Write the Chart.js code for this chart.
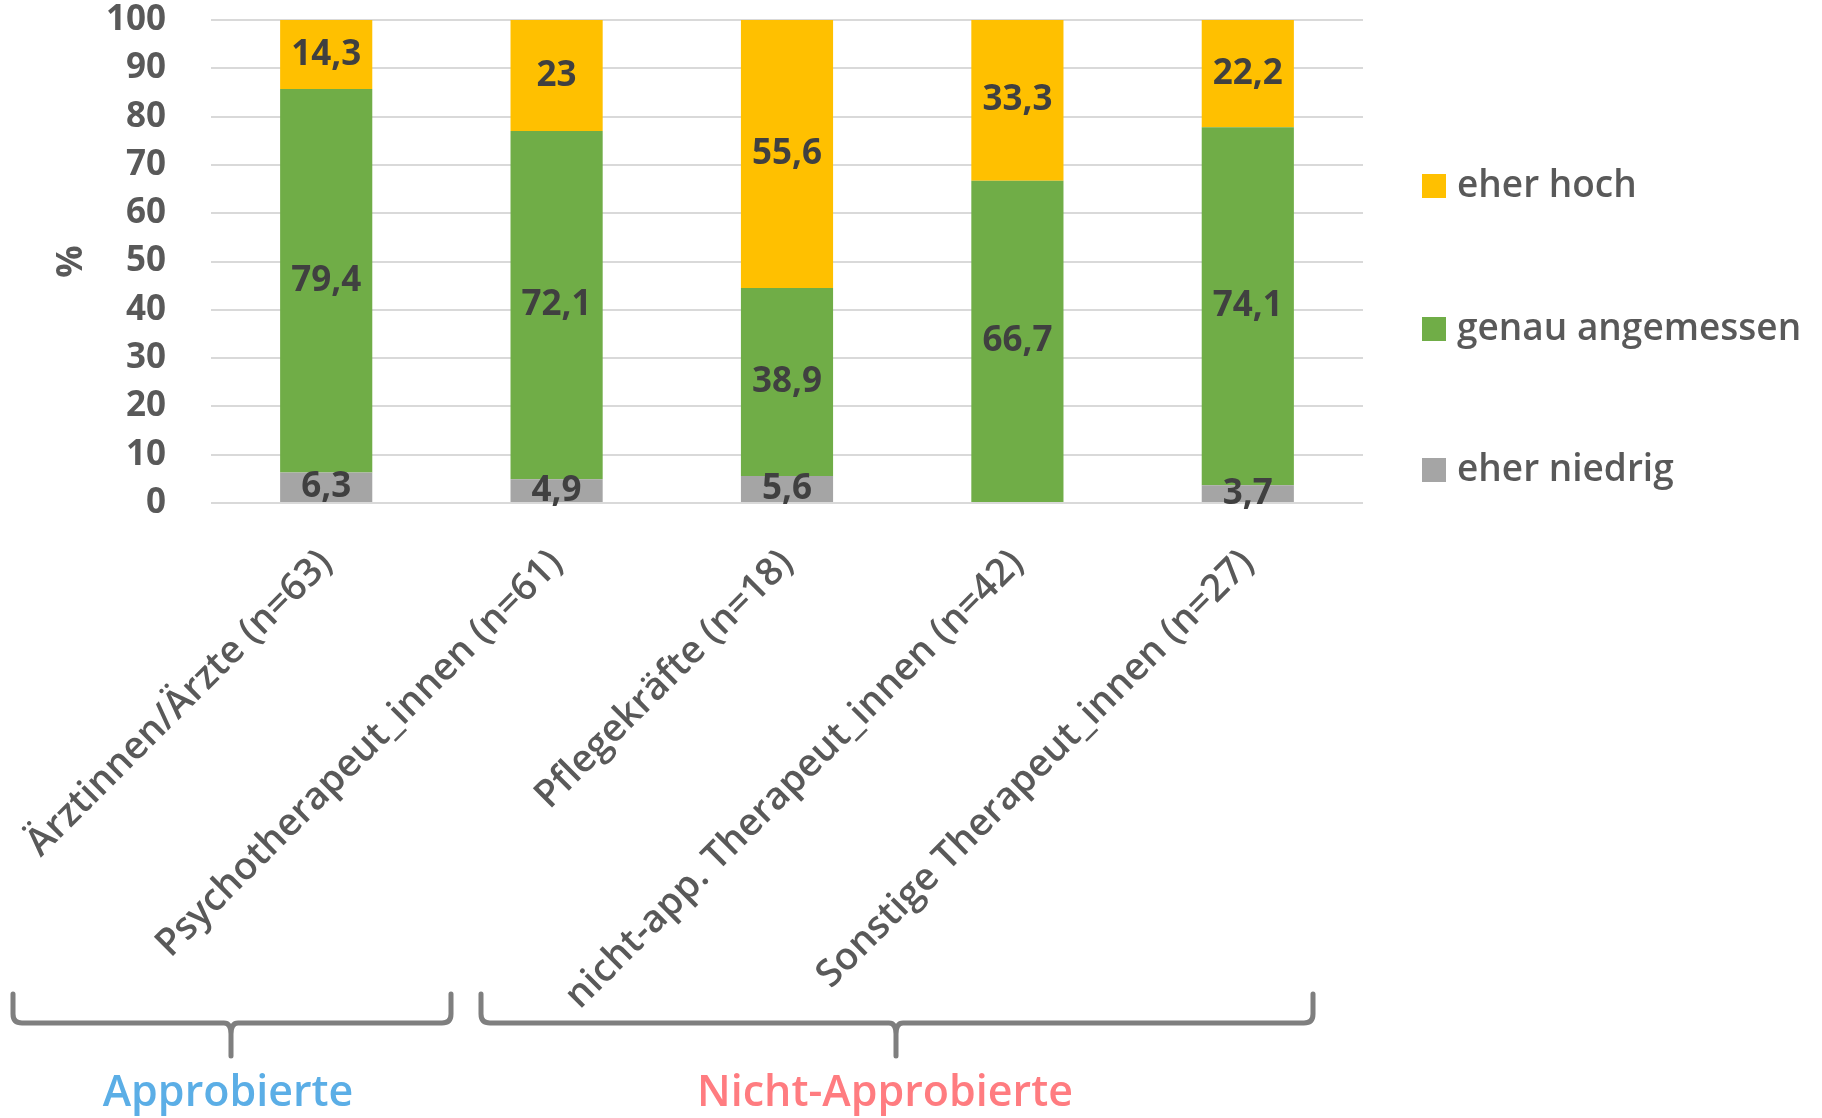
<!DOCTYPE html>
<html>
<head>
<meta charset="utf-8">
<script src="https://cdn.jsdelivr.net/npm/chart.js@4.4.1/dist/chart.umd.min.js"></script>
<style>
  html, body { margin: 0; padding: 0; background: #fff; }
  #wrap { width: 1822px; height: 1118px; }
</style>
</head>
<body>
<div id="wrap"><canvas id="chart" width="1822" height="1118"></canvas></div>
<script>
// categories (x axis)
const categories = [
  "Ärztinnen/Ärzte (n=63)",
  "Psychotherapeut_innen (n=61)",
  "Pflegekräfte (n=18)",
  "nicht-app. Therapeut_innen (n=42)",
  "Sonstige Therapeut_innen (n=27)"
];

// series values in %
const eherNiedrig = [6.3, 4.9, 5.6, null, 3.7];
const genauAngemessen = [79.4, 72.1, 38.9, 66.7, 74.1];
const eherHoch = [14.3, 23, 55.6, 33.3, 22.2];

const seriesNames = ["eher niedrig", "genau angemessen", "eher hoch"];
const seriesColors = ["#A5A5A5", "#70AD47", "#FFC000"];

// y ticks
const yMin = 0, yMax = 100, yStep = 10;

// group labels under the axis
const groups = ["Approbierte", "Nicht-Approbierte"];

const FONT = "'Open Sans', 'DejaVu Sans', sans-serif";
Chart.defaults.font.family = FONT;

function fmt(v) {
  return String(v).replace(".", ",");
}

// value labels centred in each segment
const barLabels = {
  id: "barLabels",
  afterDatasetsDraw(chart) {
    const ctx = chart.ctx;
    ctx.save();
    ctx.font = "bold 35px " + FONT;
    ctx.fillStyle = "#404040";
    ctx.textAlign = "center";
    ctx.textBaseline = "middle";
    chart.data.datasets.forEach((ds, i) => {
      const meta = chart.getDatasetMeta(i);
      meta.data.forEach((bar, j) => {
        const v = ds.data[j];
        if (v == null || v === 0) return;
        ctx.fillText(fmt(v), bar.x, (bar.y + bar.base) / 2);
      });
    });
    ctx.restore();
  }
};

// legend, brackets and group names
const extras = {
  id: "extras",
  afterDraw(chart) {
    const ctx = chart.ctx;
    ctx.save();

    // legend (top item = last dataset)
    const legendY = [186, 329, 470];
    ctx.font = "600 37px " + FONT;
    ctx.textBaseline = "middle";
    ctx.textAlign = "left";
    for (let k = 0; k < 3; k++) {
      const idx = 2 - k;
      ctx.fillStyle = seriesColors[idx];
      ctx.fillRect(1422, legendY[k] - 12, 24, 24);
      ctx.fillStyle = "#595959";
      ctx.fillText(seriesNames[idx], 1457, legendY[k]);
    }

    // brackets
    ctx.strokeStyle = "#7F7F7F";
    ctx.lineWidth = 5;
    ctx.lineCap = "round";
    ctx.lineJoin = "round";
    function bracket(x1, x2, xt) {
      const yTop = 994, yMid = 1023, yTip = 1056, r = 9, f = 7;
      ctx.beginPath();
      ctx.moveTo(x1, yTop);
      ctx.lineTo(x1, yMid - r);
      ctx.quadraticCurveTo(x1, yMid, x1 + r, yMid);
      ctx.lineTo(xt - f, yMid);
      ctx.quadraticCurveTo(xt, yMid, xt, yMid + f + 4);
      ctx.lineTo(xt, yTip);
      ctx.moveTo(xt, yMid + f + 4);
      ctx.quadraticCurveTo(xt, yMid, xt + f, yMid);
      ctx.lineTo(x2 - r, yMid);
      ctx.quadraticCurveTo(x2, yMid, x2, yMid - r);
      ctx.lineTo(x2, yTop);
      ctx.stroke();
    }
    bracket(13, 451, 231);
    bracket(481, 1313, 896);

    ctx.font = "600 43px " + FONT;
    ctx.textAlign = "center";
    ctx.fillStyle = "#5BAEE6";
    ctx.fillText(groups[0], 228, 1094);
    ctx.fillStyle = "#FF7C80";
    ctx.fillText(groups[1], 885, 1094);

    ctx.restore();
  }
};

const datasets = [eherNiedrig, genauAngemessen, eherHoch].map((d, i) => ({
  label: seriesNames[i],
  data: d,
  backgroundColor: seriesColors[i],
  borderWidth: 0,
  categoryPercentage: 1.0,
  barPercentage: 0.4
}));

function noPad(scale) {
  scale.paddingLeft = 0;
  scale.paddingRight = 0;
  scale.paddingTop = 0;
  scale.paddingBottom = 0;
}

new Chart(document.getElementById("chart"), {
  type: "bar",
  data: { labels: categories, datasets: datasets },
  options: {
    responsive: false,
    animation: false,
    layout: { padding: { top: 20, left: 38, right: 459, bottom: 0 } },
    plugins: {
      legend: { display: false },
      tooltip: { enabled: false }
    },
    scales: {
      x: {
        stacked: true,
        grid: { display: false },
        border: { display: false },
        ticks: {
          color: "#595959",
          font: { size: 38, weight: "600" },
          minRotation: 45,
          maxRotation: 45,
          padding: 30,
          autoSkip: false
        },
        afterFit(scale) { scale.height = 615; noPad(scale); }
      },
      y: {
        stacked: true,
        min: yMin,
        max: yMax,
        grid: { color: "#D9D9D9", lineWidth: 2, drawTicks: false },
        border: { display: false },
        ticks: {
          stepSize: yStep,
          autoSkip: false,
          color: "#595959",
          font: { size: 35, weight: "bold" },
          padding: 45
        },
        title: {
          display: true,
          text: "%",
          color: "#595959",
          font: { size: 36, weight: "bold" },
          padding: { top: 12, bottom: 0 }
        },
        afterFit(scale) { scale.width = 173; noPad(scale); }
      }
    }
  },
  plugins: [barLabels, extras]
});
</script>
</body>
</html>
